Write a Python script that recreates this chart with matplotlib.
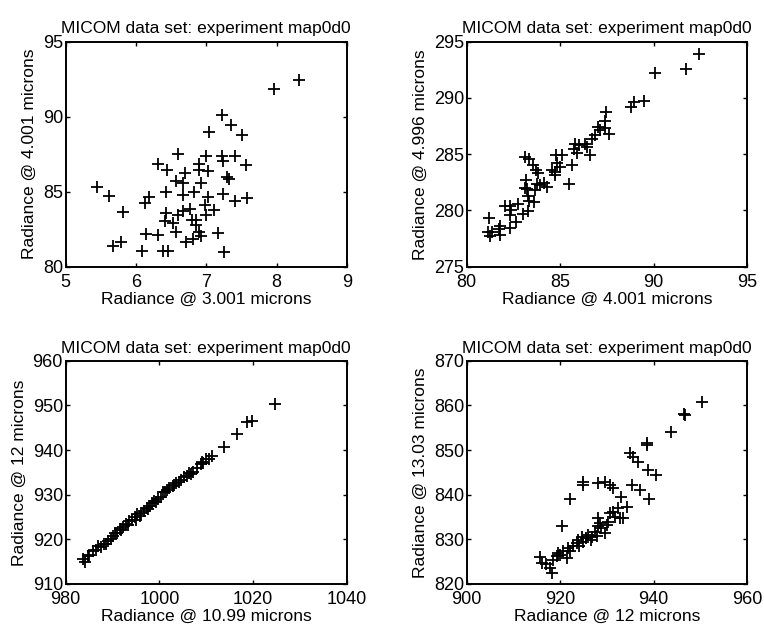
import numpy as np
import matplotlib
matplotlib.use('Agg')
import matplotlib.pyplot as plt

plt.rcParams['font.family'] = ['Liberation Sans', 'DejaVu Sans']

title = 'MICOM data set: experiment map0d0'

# panel 1: 3.001 vs 4.001 microns
x1 = [5.45, 5.62, 5.81, 5.67, 5.79, 6.09, 6.14, 6.31, 6.13, 6.19, 6.31, 6.44, 6.42,
      6.60, 6.57, 6.67, 6.67, 6.70, 6.42, 6.41, 6.53, 6.57, 6.60, 6.67, 6.71, 6.81,
      6.39, 6.46, 6.77, 6.79, 6.86, 6.85, 6.90, 6.93, 6.82, 6.90, 6.89, 6.93, 7.02,
      7.00, 7.02, 7.00, 7.11, 6.98, 7.16, 7.25, 7.04, 7.23, 7.35, 7.51, 7.22, 7.24,
      7.41, 7.56, 7.30, 7.33, 7.24, 7.41, 7.58, 7.97, 8.32]
y1 = [85.32, 84.70, 83.64, 81.38, 81.65, 81.07, 82.19, 82.12, 84.25, 84.65, 86.85,
      86.42, 84.99, 87.50, 85.70, 85.55, 84.81, 86.22, 83.58, 83.04, 82.90, 82.34,
      83.42, 83.71, 81.65, 81.85, 81.07, 81.07, 83.87, 83.13, 83.13, 82.79, 82.30,
      82.07, 84.96, 86.85, 86.44, 85.59, 86.38, 87.41, 84.65, 83.46, 83.75, 84.09,
      82.23, 81.00, 88.95, 90.09, 89.42, 88.79, 87.38, 87.05, 87.38, 86.78, 85.95,
      85.82, 84.87, 84.38, 84.58, 91.86, 92.45]

# panel 2: 4.001 vs 4.996 microns
x2 = [81.18, 81.11, 81.25, 81.34, 81.73, 81.79, 81.79, 82.05, 82.32, 82.38, 82.29,
      82.32, 82.64, 82.75, 83.00, 83.30, 83.09, 83.21, 83.16, 83.09, 83.32, 83.54,
      83.71, 83.79, 83.27, 83.32, 83.61, 83.66, 83.75, 83.93, 84.11, 84.29, 84.55,
      84.73, 84.73, 84.79, 84.82, 85.09, 84.96, 85.45, 85.63, 85.71, 85.80, 85.89,
      85.98, 86.34, 86.43, 86.57, 86.70, 86.88, 87.00, 87.14, 87.41, 87.41, 87.46,
      87.59, 88.79, 88.93, 89.46, 90.09, 91.75, 92.43]
y2 = [279.29, 278.12, 277.76, 278.06, 278.35, 277.82, 278.59, 280.44, 280.44, 280.06,
      279.62, 278.44, 278.94, 280.59, 279.71, 279.91, 281.97, 281.88, 282.71, 284.71,
      284.53, 284.03, 283.59, 283.29, 281.29, 280.88, 280.71, 281.82, 282.32, 282.26,
      282.41, 282.12, 283.59, 283.44, 283.15, 284.91, 284.24, 284.91, 283.88, 282.35,
      284.03, 285.50, 285.94, 285.12, 285.79, 285.94, 285.65, 284.97, 286.38, 286.68,
      287.41, 287.18, 287.32, 287.91, 288.74, 286.82, 289.24, 289.62, 289.76, 292.26,
      292.56, 293.88]

# panel 3: 10.99 vs 12 microns
x3 = [983.6, 984.2, 985.0, 985.9, 986.5, 987.6, 988.2, 989.0, 989.6, 990.5, 991.0,
      991.5, 992.3, 992.8, 993.5, 994.2, 994.7, 995.3, 996.1, 996.8, 997.3, 997.9,
      998.4, 998.9, 999.6, 1000.7, 1001.2, 1002.1, 1002.8, 1003.5, 1004.2, 1005.3,
      1005.9, 1006.7, 1007.1, 1008.0, 1008.8, 1009.4, 1009.9, 1010.5, 1011.3, 1013.8,
      1016.6, 1018.7, 1019.8, 1024.6,
      984.8, 986.9, 988.6, 990.1, 991.9, 993.2, 994.9, 995.8, 997.6, 999.2,
      1000.3, 1001.6, 1003.1, 1004.7, 1006.3, 1009.1]
y3 = [915.5, 915.0, 916.6, 917.4, 917.6, 918.2, 918.9, 919.6, 920.0, 921.5, 921.4,
      922.3, 922.7, 923.5, 924.1, 924.3, 924.9, 925.6, 926.0, 926.4, 927.0, 927.5,
      928.1, 928.6, 929.0, 930.5, 930.6, 931.6, 931.9, 932.7, 932.9, 933.9, 934.2,
      934.6, 935.0, 935.9, 936.8, 937.0, 938.0, 938.1, 938.7, 940.6, 943.6, 946.2,
      946.5, 950.3,
      916.2, 918.5, 919.0, 920.8, 922.0, 923.2, 924.4, 925.3, 926.9, 928.4,
      929.4, 931.0, 932.1, 933.4, 934.8, 937.4]

# panel 4: 12 vs 13.03 microns
x4 = [915.7, 916.0, 917.8, 918.2, 918.5, 919.2, 919.9, 920.6, 921.4, 921.7, 922.8,
      923.5, 923.8, 924.6, 924.9, 925.6, 926.0, 926.7, 927.4, 928.1, 928.5, 928.1,
      928.8, 930.3, 930.6, 931.3, 931.7, 932.4, 932.8, 933.5, 934.2, 933.1, 922.1,
      920.3, 924.9, 924.9, 928.1, 929.6, 930.6, 931.3, 935.3, 937.0, 938.9, 936.7,
      938.7, 940.5, 950.4, 946.5, 946.6, 943.6, 938.6, 938.5, 935.0, 935.6,
      917.0, 919.5, 922.0, 924.0, 926.5, 927.9, 929.5, 930.0]
y4 = [826.1, 824.7, 823.6, 822.4, 825.4, 826.2, 826.5, 827.3, 825.8, 828.0, 828.4,
      829.2, 829.9, 830.6, 829.5, 830.3, 831.0, 830.6, 831.7, 832.9, 833.6, 834.7,
      832.5, 834.0, 835.9, 836.2, 835.1, 837.0, 834.7, 834.7, 837.3, 839.6, 839.0,
      833.0, 842.9, 842.2, 842.6, 842.9, 842.2, 841.5, 842.2, 841.1, 839.0, 847.4,
      845.5, 844.4, 860.8, 858.2, 857.8, 854.0, 851.5, 851.1, 849.4, 848.5,
      824.5, 827.0, 827.5, 828.5, 829.8, 830.8, 831.5, 833.2]

panels = [
    (x1, y1, 'Radiance @ 3.001 microns', 'Radiance @ 4.001 microns', (5, 9), (80, 95), [5, 6, 7, 8, 9], [80, 85, 90, 95]),
    (x2, y2, 'Radiance @ 4.001 microns', 'Radiance @ 4.996 microns', (80, 95), (275, 295), [80, 85, 90, 95], [275, 280, 285, 290, 295]),
    (x3, y3, 'Radiance @ 10.99 microns', 'Radiance @ 12 microns', (980, 1040), (910, 960), [980, 1000, 1020, 1040], [910, 920, 930, 940, 950, 960]),
    (x4, y4, 'Radiance @ 12 microns', 'Radiance @ 13.03 microns', (900, 960), (820, 870), [900, 920, 940, 960], [820, 830, 840, 850, 860, 870]),
]

# axes boxes in figure fractions (left, bottom, width, height)
boxes = [
    (0.086, 0.578, 0.368, 0.356),
    (0.611, 0.578, 0.367, 0.356),
    (0.086, 0.076, 0.368, 0.353),
    (0.611, 0.076, 0.367, 0.353),
]

fig = plt.figure(figsize=(7.64, 6.32), dpi=100)
for (x, y, xl, yl, xlim, ylim, xt, yt), box in zip(panels, boxes):
    ax = fig.add_axes(box)
    ax.plot(x, y, '+', color='k', markersize=8, markeredgewidth=1.3)
    ax.set_xlim(*xlim)
    ax.set_ylim(*ylim)
    ax.set_xticks(xt)
    ax.set_yticks(yt)
    ax.tick_params(direction='in', top=True, right=True, length=3, width=1,
                   labelsize=13)
    ax.tick_params(axis='x', pad=5)
    ax.tick_params(axis='y', pad=2)
    for s in ax.spines.values():
        s.set_linewidth(1.4)
    ax.set_xlabel(xl, fontsize=12.5, labelpad=1)
    ax.set_ylabel(yl, fontsize=12.5, labelpad=4)
    ax.set_title(title, fontsize=12.5, pad=6)

fig.savefig('out.png', dpi=100)
